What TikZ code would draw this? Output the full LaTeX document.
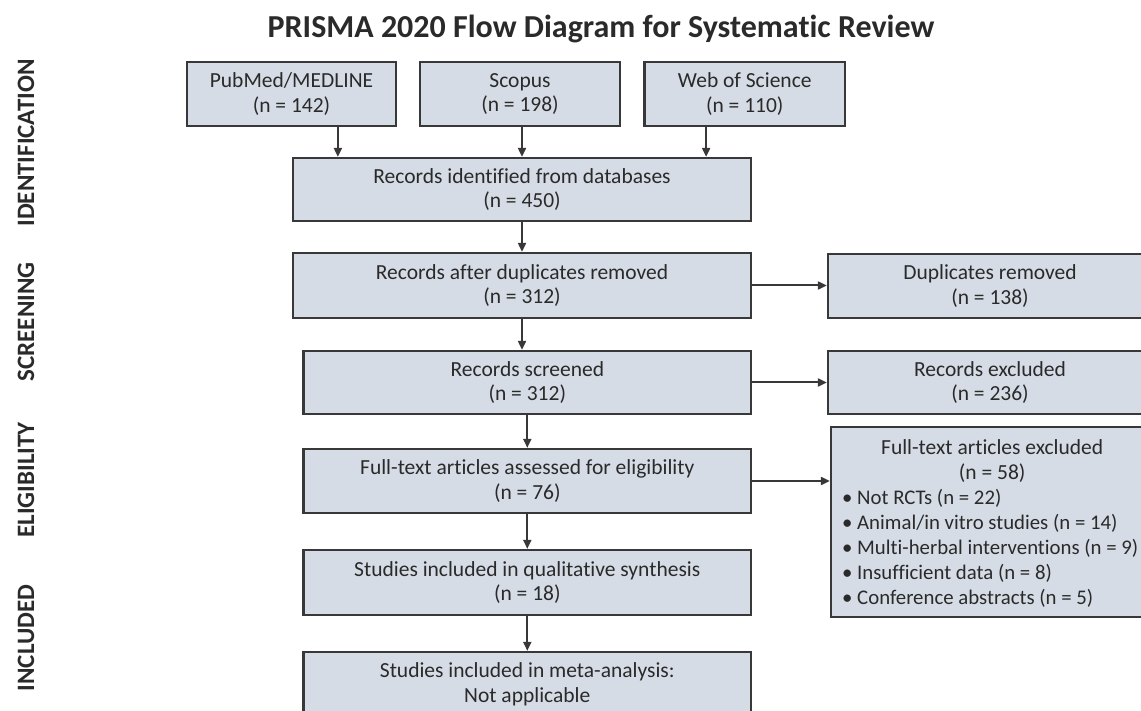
\documentclass[tikz,border=0pt]{standalone}
\usepackage{fontspec}
\setmainfont{Carlito}[Ligatures=NoCommon]
\usetikzlibrary{arrows.meta,calc}
\definecolor{boxfill}{HTML}{D6DCE5}
\definecolor{boxline}{HTML}{383838}
\definecolor{txt}{HTML}{2A2A2A}
\begin{document}
\begin{tikzpicture}[x=1pt,y=-1pt,
  box/.style={draw=boxline, fill=boxfill, line width=2.3pt, align=center, text=txt,
    font=\fontsize{21.5}{24.5}\selectfont, inner sep=0pt},
  conn/.style={draw=boxline, line width=2pt, -{Triangle[length=9pt,width=8pt]}},
  lab/.style={rotate=90, font=\bfseries\fontsize{25}{25}\selectfont, text=txt, inner sep=0pt},
  listtext/.style={text=txt, font=\fontsize{20.8}{25}\selectfont, inner sep=0pt, align=left}]
\useasboundingbox (0,0) rectangle (1141,711);
\fill[white] (0,0) rectangle (1141,711);
\clip (0,0) rectangle (1141,711);

% title
\node[anchor=base, text=txt, font=\bfseries\fontsize{32}{36}\selectfont, inner sep=0pt] (title) at (601,38) {PRISMA 2020 Flow Diagram for Systematic Review};

% phase labels
\node[lab] (lid) at (26,143) {IDENTIFICATION};
\node[lab] (lsc) at (26,322) {SCREENING};
\node[lab] (lel) at (26,480) {ELIGIBILITY};
\node[lab] (lin) at (26,638) {INCLUDED};

% database boxes
\node[box, minimum width=209pt, minimum height=64pt] (pub) at (291.5,94) {PubMed/MEDLINE\\(n = 142)};
\node[box, minimum width=200pt, minimum height=64pt] (sco) at (520,94) {Scopus\\(n = 198)};
\node[box, minimum width=200.5pt, minimum height=64pt] (wos) at (744.75,94) {Web of Science\\(n = 110)};

% main column
\node[box, minimum width=458pt, minimum height=63pt] (ident) at (522,189.5) {Records identified from databases\\(n = 450)};
\node[box, minimum width=458pt, minimum height=65pt] (dup) at (522,285.5) {Records after duplicates removed\\(n = 312)};
\node[box, minimum width=447.4pt, minimum height=63pt] (scr) at (527.3,382.5) {Records screened\\(n = 312)};
\node[box, minimum width=447.4pt, minimum height=64pt] (ass) at (527.3,481) {Full-text articles assessed for eligibility\\(n = 76)};
\node[box, minimum width=447.4pt, minimum height=65pt] (qual) at (527.3,582.5) {Studies included in qualitative synthesis\\(n = 18)};
\node[box, minimum width=447.4pt, minimum height=65pt] (meta) at (527.3,684.5) {Studies included in meta-analysis:\\Not applicable};

% right column
\node[box, minimum width=324pt, minimum height=64pt] (duprm) at (990,286) {Duplicates removed\\(n = 138)};
\node[box, minimum width=324pt, minimum height=63pt] (recex) at (990,382.5) {Records excluded\\(n = 236)};
\node[box, minimum width=322pt, minimum height=190pt] (ftex) at (992,522) {};
\node[listtext, anchor=north west] (ftlist) at (842,439) {%
  \makebox[300pt][c]{\fontsize{21.5}{25}\selectfont Full-text articles excluded}\\
  \makebox[300pt][c]{\fontsize{21.5}{25}\selectfont (n = 58)}\\
  \makebox[15pt][l]{•}Not RCTs (n = 22)\\
  \makebox[15pt][l]{•}Animal/in vitro studies (n = 14)\\
  \makebox[15pt][l]{•}Multi-herbal interventions (n = 9)\\
  \makebox[15pt][l]{•}Insufficient data (n = 8)\\
  \makebox[15pt][l]{•}Conference abstracts (n = 5)};

% connectors
\coordinate (a1) at ($(ident.north west)!0.1!(ident.north east)$);
\coordinate (a3) at ($(ident.north west)!0.9!(ident.north east)$);
\draw[conn] (pub.south -| a1) -- (a1);
\draw[conn] (sco.south -| ident.north) -- (ident.north);
\draw[conn] (wos.south -| a3) -- (a3);
\draw[conn] (ident.south) -- (dup.north);
\draw[conn] (dup.south) -- (dup.south |- scr.north);
\draw[conn] (scr.south) -- (ass.north);
\draw[conn] (ass.south) -- (qual.north);
\draw[conn] (qual.south) -- (meta.north);
\draw[conn] (dup.east) -- (dup.east -| duprm.west);
\draw[conn] (scr.east) -- (scr.east -| recex.west);
\draw[conn] (ass.east) -- (ass.east -| ftex.west);
\end{tikzpicture}
\end{document}
